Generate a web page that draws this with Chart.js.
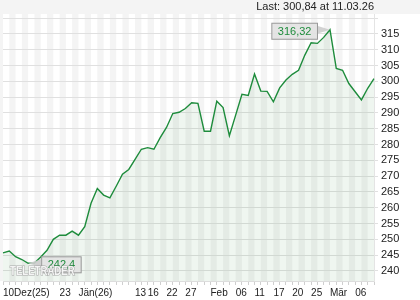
<!DOCTYPE html>
<html>
<head>
<meta charset="utf-8">
<script src="https://cdn.jsdelivr.net/npm/chart.js@4.4.1/dist/chart.umd.min.js"></script>
<style>
  html, body { margin: 0; padding: 0; background: #fff; }
  #wrap { width: 420px; height: 300px; }
</style>
</head>
<body>
<div id="wrap"><canvas id="price-chart" width="420" height="300"></canvas></div>
<script>
// Kursverlauf (Schlusskurse)
const prices = [
  245.7, 246.3, 244.5, 243.6, 242.4, 242.5, 244.4, 246.5, 250.0, 251.3,
  251.3, 252.6, 251.3, 254.0, 261.4, 266.1, 264.0, 263.1, 266.8, 270.6,
  272.1, 275.3, 278.5, 279.0, 278.5, 282.2, 285.4, 289.8, 290.2, 291.4,
  293.2, 293.0, 284.2, 284.2, 293.7, 291.7, 282.8, 289.3, 295.9, 295.5,
  302.3, 296.9, 296.8, 293.5, 297.9, 300.4, 302.2, 303.5, 308.3, 312.2,
  312.0, 313.9, 316.32, 304.1, 303.5, 299.3, 296.7, 294.1, 297.8, 300.84,
];
// Achsenbeschriftung x
const tickLabels = ['10Dez(25)', '23', 'Jän(26)', '13', '16', '22', '27', 'Feb', '06', '11', '17', '20', '25', 'Mär', '06'];
const tickIndex = [0, 9, 12, 21, 23, 26, 29, 33, 37, 40, 43, 46, 49, 52, 56];
// Achsenbeschriftung y
const yTicks = [240, 245, 250, 255, 260, 265, 270, 275, 280, 285, 290, 295, 300, 305, 310, 315, 320];
const lastDate = '11.03.26';

const FONT = 'Liberation Sans, Arial, sans-serif';
const GREEN = '#1e8c3c';

const labels = prices.map((p, i) => {
  const k = tickIndex.indexOf(i);
  return k < 0 ? '' : tickLabels[k];
});

const fmt = (v) => String(v).replace('.', ',');

// Hintergrund: grauer Kopf + Streifen pro Handelstag
const background = {
  id: 'background',
  beforeDraw: (chart) => {
    const ctx = chart.ctx;
    const area = chart.chartArea;
    const x = chart.scales.x;
    ctx.save();
    ctx.fillStyle = '#f4f4f4';
    ctx.fillRect(0, 0, chart.width, area.top);
    ctx.fillRect(0, area.top, area.left, area.bottom - area.top);
    for (let i = 1; i < prices.length - 1; i += 2) {
      const x0 = x.getPixelForValue(i);
      const x1 = x.getPixelForValue(i + 1);
      ctx.fillRect(x0, area.top, x1 - x0, area.bottom - area.top);
    }
    ctx.fillStyle = '#222';
    ctx.font = '11px ' + FONT;
    ctx.textAlign = 'right';
    ctx.textBaseline = 'middle';
    ctx.fillText('Last: ' + fmt(prices[prices.length - 1]) + ' at ' + lastDate, area.right, 7);
    ctx.restore();
  },
};

const drawBox = (ctx, text, bx, cy, px, py) => {
  ctx.font = '11px ' + FONT;
  const w = ctx.measureText(text).width + 12;
  const h = 16;
  const left = bx < px ? bx - w : bx;
  const edge = bx;
  // Zeiger
  ctx.fillStyle = 'rgba(205,205,205,0.9)';
  ctx.beginPath();
  ctx.moveTo(edge, cy - 5);
  ctx.lineTo(px, py);
  ctx.lineTo(edge, cy + 3);
  ctx.closePath();
  ctx.fill();
  ctx.fillStyle = 'rgba(226,226,226,0.9)';
  ctx.strokeStyle = '#999';
  ctx.lineWidth = 1;
  ctx.fillRect(left + 0.5, cy - h / 2 + 0.5, w, h);
  ctx.strokeRect(left + 0.5, cy - h / 2 + 0.5, w, h);
  ctx.fillStyle = GREEN;
  ctx.textAlign = 'center';
  ctx.textBaseline = 'middle';
  ctx.fillText(text, left + w / 2 + 0.5, cy + 1);
};

// Hoch/Tief Markierung + Wasserzeichen
const marks = {
  id: 'marks',
  afterDatasetsDraw: (chart) => {
    const ctx = chart.ctx;
    const x = chart.scales.x;
    const y = chart.scales.y;
    const max = Math.max(...prices);
    const min = Math.min(...prices);
    const iMax = prices.indexOf(max);
    const iMin = prices.indexOf(min);
    ctx.save();
    const pxMax = x.getPixelForValue(iMax);
    const pyMax = y.getPixelForValue(max);
    drawBox(ctx, fmt(max), pxMax - 13, pyMax + 1, pxMax, pyMax);
    const pxMin = x.getPixelForValue(iMin);
    const pyMin = y.getPixelForValue(min);
    drawBox(ctx, fmt(min), pxMin + 13, pyMin + 1, pxMin, pyMin);

    // TELETRADER
    ctx.translate(10, 271);
    ctx.scale(0.74, 1);
    ctx.font = 'bold 13px ' + FONT;
    ctx.textAlign = 'left';
    ctx.textBaseline = 'middle';
    ctx.lineWidth = 1.2;
    ctx.strokeStyle = 'rgba(150,150,150,0.8)';
    ctx.fillStyle = 'rgba(255,255,255,0.85)';
    ctx.strokeText('TELETRADER', 0, 0);
    ctx.fillText('TELETRADER', 0, 0);
    ctx.restore();
  },
};

new Chart(document.getElementById('price-chart'), {
  type: 'line',
  data: {
    labels: labels,
    datasets: [
      {
        data: prices,
        borderColor: GREEN,
        borderWidth: 1.4,
        backgroundColor: 'rgba(40,130,60,0.075)',
        fill: 'start',
        tension: 0,
        pointRadius: 0,
      },
    ],
  },
  options: {
    responsive: false,
    animation: false,
    layout: { padding: { left: 3, top: 14, right: 0, bottom: 0 } },
    plugins: {
      legend: { display: false },
      tooltip: { enabled: false },
    },
    scales: {
      x: {
        offset: false,
        grid: {
          drawOnChartArea: false,
          drawTicks: true,
          tickLength: 4,
          color: '#cfcfcf',
        },
        border: { color: '#ddd' },
        ticks: {
          autoSkip: false,
          maxRotation: 0,
          align: 'start',
          padding: 2,
          color: '#222',
          font: { family: FONT, size: 10 },
        },
        afterFit: (scale) => {
          scale.height = 19;
        },
      },
      y: {
        position: 'right',
        min: 236.8,
        max: 321.3,
        afterBuildTicks: (scale) => {
          scale.ticks = yTicks.map((v) => ({ value: v }));
        },
        grid: {
          color: '#e0e0e0',
          tickLength: 4,
        },
        border: { color: '#e4e4e4' },
        ticks: {
          padding: 3,
          color: '#222',
          font: { family: FONT, size: 11 },
          callback: (v) => (v === 320 ? '' : v),
        },
        afterFit: (scale) => {
          scale.width = 46;
        },
      },
    },
  },
  plugins: [background, marks],
});
</script>
</body>
</html>
